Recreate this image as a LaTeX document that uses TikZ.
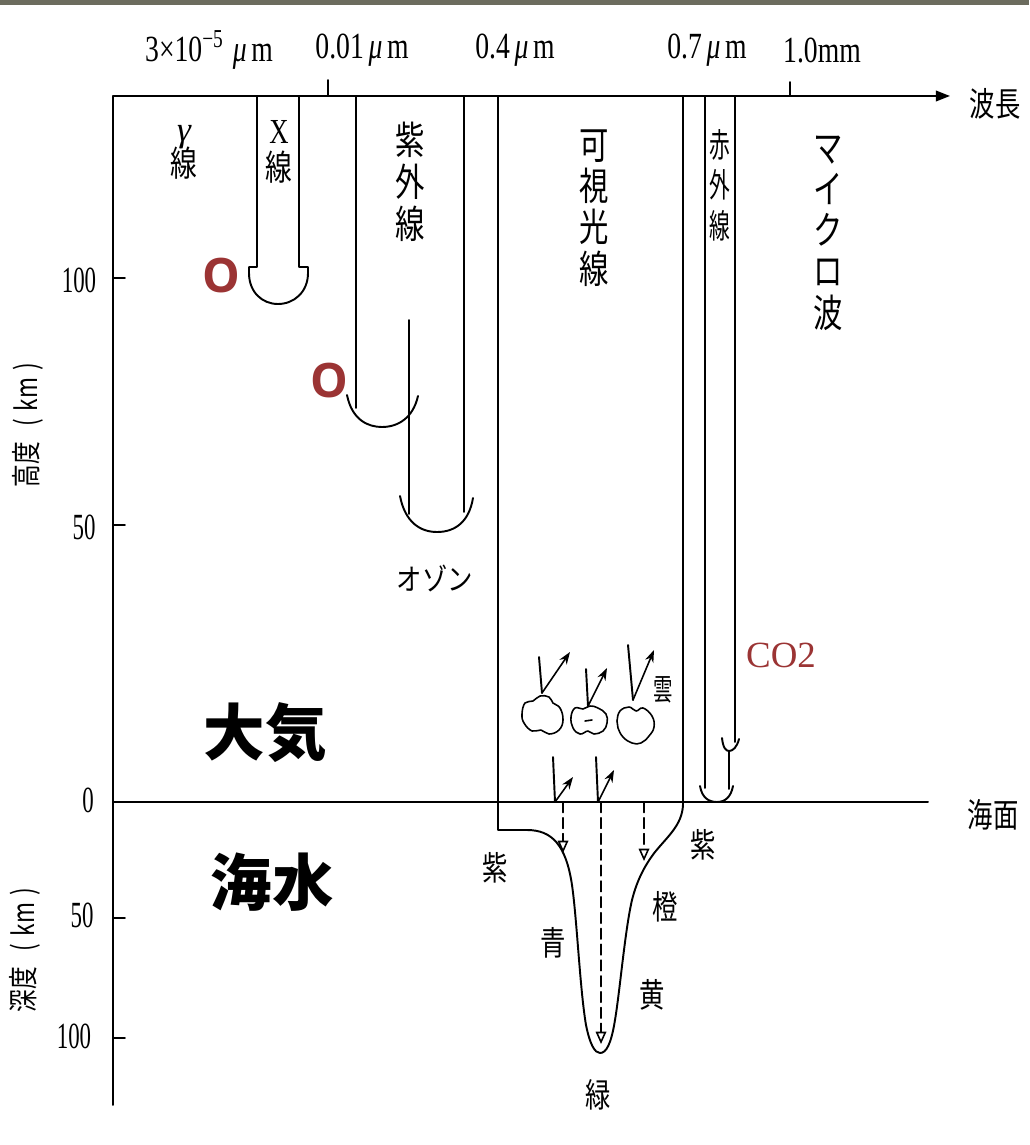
\documentclass[tikz,border=0pt]{standalone}
\usepackage{fontspec}
\usepackage{graphicx}
\setmainfont{Liberation Serif}
\newfontfamily\cjk{Noto Sans CJK JP}
\newfontfamily\osans{Open Sans}
\usetikzlibrary{arrows.meta}
\definecolor{barcol}{RGB}{108,108,94}
\definecolor{oxred}{RGB}{155,52,52}
% condensed latin and CJK glyphs
\newcommand\nx[1]{\scalebox{0.75}[1]{#1}}
\newcommand\nj[1]{\scalebox{0.76}[1]{#1}}
\newcommand\nn[1]{\scalebox{0.62}[1]{#1}}
\tikzset{
  ln/.style={line width=1.1pt},
  toplab/.style={inner sep=0pt, font=\fontsize{21}{21}\selectfont},
  ticklab/.style={inner sep=0pt, font=\fontsize{21}{21}\selectfont},
  vlab/.style={inner sep=0pt, align=center, font=\cjk\fontsize{22}{24}\selectfont},
  smalllab/.style={inner sep=0pt, align=center, font=\cjk\fontsize{19}{22.5}\selectfont},
  biglab/.style={inner sep=0pt, font=\cjk\bfseries\fontsize{35}{35}\selectfont},
  redO/.style={inner sep=0pt, text=oxred, font=\osans\bfseries\fontsize{27}{27}\selectfont},
  upray/.style={line width=0.9pt, -{Stealth[length=7pt,width=5pt]}},
  downray/.style={line width=0.9pt, dash pattern=on 6pt off 3pt, -{Triangle[open,length=7pt,width=6pt]}},
  cloud/.style={line width=0.9pt},
}
\begin{document}
\begin{tikzpicture}[x=0.02cm,y=-0.02cm, line cap=round, line join=round]
\useasboundingbox (0,0) rectangle (1029,1145);
\fill[white] (0,0) rectangle (1029,1145);
\fill[barcol] (0,0) rectangle (1029,5);

% ---------- axes ----------
\coordinate (org) at (113,96);
\coordinate (axend) at (950,96);
\coordinate (axbot) at (113,1105);
\coordinate (sea0) at (113,802);
\coordinate (sea1) at (928,802);
\draw[ln, -{Triangle[length=8pt,width=6pt]}] (org) -- (axend);
\draw[ln] (org) -- (axbot);
\draw[ln] (sea0) -- (sea1);
\node[inner sep=0pt, font=\cjk\fontsize{19}{19}\selectfont] (wl) at (995,104) {\nj{波長}};
\node[inner sep=0pt, font=\cjk\fontsize{19}{19}\selectfont] (sf) at (993,815) {\nj{海面}};

% wavelength ticks and labels
\coordinate (t1a) at (328,80); \coordinate (t1b) at (328,96);
\coordinate (t2a) at (790,82); \coordinate (t2b) at (790,96);
\draw[ln] (t1a) -- (t1b);
\draw[ln] (t2a) -- (t2b);
\node[toplab] (w1) at (209,50) {\nx{3×10\textsuperscript{−5}\,\,{\itshape μ}\,m}};
\node[toplab] (w2) at (362,50) {\nx{0.01\,{\itshape μ}\,m}};
\node[toplab] (w3) at (515,50) {\nx{0.4\,{\itshape μ}\,m}};
\node[toplab] (w4) at (707,50) {\nx{0.7\,{\itshape μ}\,m}};
\node[toplab] (w5) at (822,50) {\nx{1.0mm}};

% height / depth ticks and labels
\foreach \yy/\nm in {278/h100, 525/h50, 918/d50, 1038/d100}{
  \coordinate (\nm a) at (113,\yy); \coordinate (\nm b) at (125,\yy);
  \draw[ln] (\nm a) -- (\nm b);
}
\node[ticklab] (l100) at (79,280) {\nn{100}};
\node[ticklab] (l50) at (84,527) {\nn{50}};
\node[ticklab] (l0) at (88,800) {\nn{0}};
\node[ticklab] (l50d) at (82,915) {\nn{50}};
\node[ticklab] (l100d) at (74,1036) {\nn{100}};
\node[inner sep=0pt, rotate=90, font=\cjk\fontsize{17}{17}\selectfont] (hax) at (28,425) {\nj{高度}\hspace{9pt}\nj{(\,\,km\,\,)}};
\node[inner sep=0pt, rotate=90, font=\cjk\fontsize{17}{17}\selectfont] (dax) at (25,950) {\nj{深度}\hspace{9pt}\nj{(\,\,km\,\,)}};

% ---------- gamma rays ----------
\node[vlab, font=\cjk\fontsize{20}{20}\selectfont] (gam) at (184,152) {{\fontspec{Liberation Serif}\itshape γ}\\[-2pt]\nj{線}};

% ---------- X rays ----------
\draw[ln] (257,96) -- (257,267) -- (249,267) -- (249,273)
  .. controls (249,292) and (262,304) .. (278,304)
  .. controls (294,304) and (308,292) .. (308,273) -- (308,267) -- (299,267) -- (299,96);
\node[vlab, font=\cjk\fontsize{20}{21}\selectfont] (xr) at (279,152) {{\fontspec{Liberation Serif}\nj{X}}\\\nj{線}};
\node[redO] (o1) at (221,276) {O};

% ---------- ultraviolet ----------
\draw[ln] (356,96) -- (356,408);
\draw[ln] (464,96) -- (464,512);
\draw[ln] (409,320) -- (409,514);
\draw[ln] (347,395) .. controls (352,420) and (368,427) .. (382,427)
  .. controls (398,427) and (413,418) .. (418,396);
\draw[ln] (400,496) .. controls (405,522) and (420,532) .. (437,532)
  .. controls (455,532) and (469,522) .. (473,498);
\node[vlab] (uv) at (410,182) {\nj{紫}\\\nj{外}\\\nj{線}};
\node[redO] (o2) at (329,381) {O};
\node[inner sep=0pt, font=\cjk\fontsize{17}{17}\selectfont] (oz) at (435,578) {\scalebox{0.85}[1]{オゾン}};

% ---------- visible light ----------
\draw[ln] (498,96) -- (498,830) -- (527,830)
  .. controls (552,830) and (566,845) .. (572,885)
  .. controls (577,920) and (580,990) .. (586,1025)
  .. controls (590,1045) and (595,1053) .. (600,1053)
  .. controls (606,1053) and (611,1045) .. (615,1020)
  .. controls (620,990) and (625,930) .. (632,900)
  .. controls (637,880) and (645,865) .. (655,852)
  .. controls (668,836) and (682,825) .. (683,805) -- (683,96);
\node[vlab] (vis) at (594,208) {\nj{可}\\[-0.5pt]\nj{視}\\[-0.5pt]\nj{光}\\[-0.5pt]\nj{線}};

% clouds
\draw[cloud] plot[smooth cycle, tension=0.7] coordinates {(522,714) (525,703) (533,701) (540,696) (549,697) (553,703) (560,708) (563,720) (559,730) (549,734) (541,730) (532,731) (524,723)};
\draw[cloud] plot[smooth cycle, tension=0.7] coordinates {(571,717) (575,708) (583,709) (590,706) (598,708) (606,714) (607,723) (603,731) (594,734) (588,731) (580,734) (573,728)};
\draw[cloud] (585,721) -- (592,720);
\draw[cloud] plot[smooth cycle, tension=0.7] coordinates {(617,721) (620,711) (629,707) (636,711) (643,708) (652,716) (654,727) (649,736) (641,743) (632,743) (623,737) (618,728)};
\node[smalllab, font=\cjk\fontsize{17}{17}\selectfont] (cl) at (663,690) {\scalebox{0.65}[1]{雲}};

% rays reflected by clouds
\coordinate (c1t) at (539,657); \coordinate (c1b) at (542,693); \coordinate (c1r) at (570,652);
\coordinate (c2t) at (586,669); \coordinate (c2b) at (588,706); \coordinate (c2r) at (607,668);
\coordinate (c3t) at (628,645); \coordinate (c3b) at (633,700); \coordinate (c3r) at (654,650);
\draw[ln] (c1t) -- (c1b); \draw[upray] (c1b) -- (c1r);
\draw[ln] (c2t) -- (c2b); \draw[upray] (c2b) -- (c2r);
\draw[ln] (c3t) -- (c3b); \draw[upray] (c3b) -- (c3r);

% rays reflected at the sea surface
\coordinate (s1t) at (553,757); \coordinate (s1b) at (555,802); \coordinate (s1r) at (573,777);
\coordinate (s2t) at (596,757); \coordinate (s2b) at (598,802); \coordinate (s2r) at (614,770);
\draw[ln] (s1t) -- (s1b); \draw[upray] (s1b) -- (s1r);
\draw[ln] (s2t) -- (s2b); \draw[upray] (s2b) -- (s2r);

% penetration into the sea
\coordinate (p1a) at (563,802); \coordinate (p1b) at (563,853);
\coordinate (p2a) at (601,802); \coordinate (p2b) at (601,1044);
\coordinate (p3a) at (644,802); \coordinate (p3b) at (644,861);
\draw[downray] (p1a) -- (p1b);
\draw[downray] (p2a) -- (p2b);
\draw[downray] (p3a) -- (p3b);

\node[smalllab] (cv1) at (495,868) {\nj{紫}};
\node[smalllab] (cv2) at (703,845) {\nj{紫}};
\node[smalllab] (cb) at (553,943) {\nj{青}};
\node[smalllab] (co) at (665,907) {\nj{橙}};
\node[smalllab] (cy) at (652,995) {\nj{黄}};
\node[smalllab] (cg) at (598,1095) {\nj{緑}};

% ---------- infrared ----------
\draw[ln] (705,96) -- (705,788);
\draw[ln] (735,96) -- (735,742);
\draw[ln] (722,738) .. controls (723,748) and (726,751) .. (729,751)
  .. controls (733,751) and (737,747) .. (739,739);
\draw[ln] (729,751) -- (729,789);
\draw[ln] (700,786) .. controls (702,798) and (709,802) .. (717,802)
  .. controls (725,802) and (731,797) .. (733,786);
\node[vlab, font=\cjk\fontsize{19}{23}\selectfont] (ir) at (720,185) {\scalebox{0.62}[1]{赤}\\\scalebox{0.62}[1]{外}\\\scalebox{0.62}[1]{線}};
\node[inner sep=0pt, text=oxred, font=\fontsize{21}{21}\selectfont] (co2) at (781,655) {CO2};

% ---------- microwaves ----------
\node[vlab] (mw) at (828,233) {\nj{マ}\\[-0.5pt]\nj{イ}\\[-0.5pt]\nj{ク}\\[-0.5pt]\nj{ロ}\\[-0.5pt]\nj{波}};

% ---------- media ----------
\node[biglab] (air) at (265,733) {大気};
\node[biglab] (sea) at (272,882) {海水};
\end{tikzpicture}
\end{document}
